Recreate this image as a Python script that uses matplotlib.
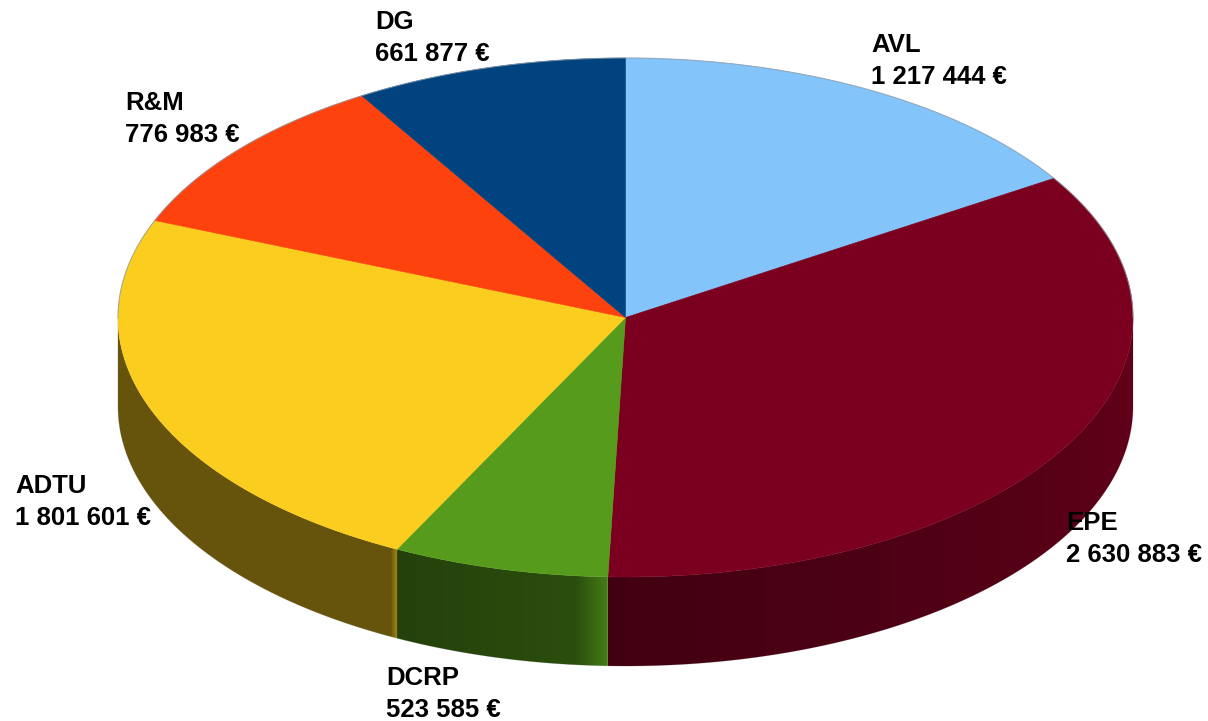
#!/usr/bin/env python3
"""3D looking budget pie, drawn by hand since matplotlib has no such pie."""
import numpy as np
import matplotlib
matplotlib.use('Agg')
import matplotlib.pyplot as plt
from matplotlib.patches import Polygon
from matplotlib.colors import to_rgb

names = ['AVL', 'EPE', 'DCRP', 'ADTU', 'R&M', 'DG']
values = [1217444, 2630883, 523585, 1801601, 776983, 661877]
value_labels = ['1 217 444 €', '2 630 883 €', '523 585 €',
                '1 801 601 €', '776 983 €', '661 877 €']

colors = ['#83c5fb', '#7b0020', '#569b1b', '#facd1f', '#fd420e', '#00437f']
label_xy = [(871, 61), (1066, 539), (386, 694), (15, 502), (125, 119), (375, 38)]

# wall brightness vs angle, offsets in degrees from the start of each slice
wall_shade = {
    'EPE': ([-32.4, 50, 124.4], [0.98, 0.76, 0.53]),
    'DCRP': ([0, 3.7, 24.8], [0.80, 0.50, 0.42]),
    'ADTU': ([0, 0.9, 85.2], [0.68, 0.41, 0.41]),
}

CX, CY, RX, RY, DEPTH = 625.5, 317.5, 507.5, 259.5, 89

plt.rcParams['font.family'] = ['Liberation Sans', 'DejaVu Sans']

fig = plt.figure(figsize=(12.08, 7.21), dpi=100)
ax = fig.add_axes([0, 0, 1, 1])


def rim(t_deg, drop=0.0):
    # angle runs clockwise from 12 o'clock
    t = np.radians(t_deg)
    return CX + RX * np.sin(t), CY - RY * np.cos(t) + drop


fractions = np.array(values, dtype=float) / sum(values)
edges = np.concatenate([[0], np.cumsum(fractions) * 360])

# side wall first, one clipped gradient image per slice
for name, col, a, b in zip(names, colors, edges[:-1], edges[1:]):
    lo, hi = max(a, 90), min(b, 270)
    if lo >= hi or name not in wall_shade:
        continue
    ts = np.linspace(lo, hi, 300)
    xs, ys = rim(ts)
    poly = np.r_[np.c_[xs, ys], np.c_[xs, ys + DEPTH][::-1]]
    x0, x1 = xs.min(), xs.max()
    col_x = np.linspace(x0, x1, 800)
    col_t = 180 - np.degrees(np.arcsin(np.clip((col_x - CX) / RX, -1, 1)))
    pts, fac = wall_shade[name]
    f = np.interp(col_t - a, pts, fac)
    img = (np.array(to_rgb(col))[None, :] * f[:, None])[None, :, :]
    im = ax.imshow(img, extent=(x0, x1, ys.max() + DEPTH, ys.min()),
                   aspect='auto', interpolation='bilinear', zorder=1)
    patch = Polygon(poly, closed=True, transform=ax.transData, fc='none', ec='none')
    ax.add_patch(patch)
    im.set_clip_path(patch)

# top face
for col, a, b in zip(colors, edges[:-1], edges[1:]):
    ts = np.linspace(a, b, 200)
    xs, ys = rim(ts)
    ax.fill(np.r_[CX, xs], np.r_[CY, ys], color=col, lw=0.4, zorder=2)

# thin grey outline around the silhouette
ts = np.linspace(-90, 90, 400)
xs, ys = rim(ts)
ax.plot(xs, ys, color='#8f9aa5', lw=0.8, alpha=0.7, zorder=3)
ts = np.linspace(90, 270, 400)
xs, ys = rim(ts, DEPTH)
ax.plot(np.r_[CX + RX, xs, CX - RX], np.r_[CY, ys, CY], color='#9a9a9a',
        lw=0.6, alpha=0.5, zorder=0.5)

for name, val, (x, y) in zip(names, value_labels, label_xy):
    ax.text(x, y, f'{name}\n{val}', ha='left', va='center', fontsize=18.5,
            fontweight='bold', color='black', linespacing=1.42, zorder=5)

ax.set_xlim(0, 1208)
ax.set_ylim(721, 0)
ax.axis('off')

fig.savefig('out.png', dpi=100)
